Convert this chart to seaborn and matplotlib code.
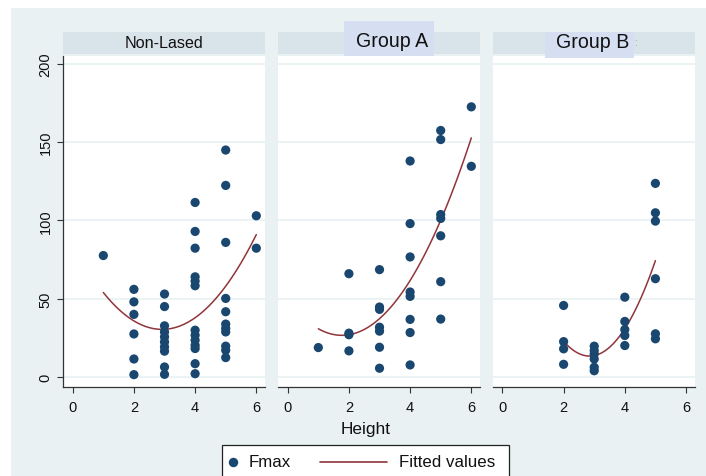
import matplotlib
matplotlib.use("Agg")
import matplotlib.pyplot as plt
from matplotlib.patches import Rectangle
from matplotlib.lines import Line2D
import seaborn as sns
import pandas as pd

# ---------------- data ----------------
panels = ["Non-Lased", "Group A", "Group B"]

nonlased_height = [1,
                   2, 2, 2, 2, 2, 2,
                   3, 3, 3, 3, 3, 3, 3, 3, 3, 3,
                   4, 4, 4, 4, 4, 4, 4, 4, 4, 4, 4, 4, 4,
                   5, 5, 5, 5, 5, 5, 5, 5, 5, 5, 5,
                   6, 6]
nonlased_fmax = [77.6,
                 56, 48, 40, 27.5, 11.5, 1.5,
                 53, 45, 32.7, 28.8, 25.6, 22.4, 19.2, 16.5, 6.4, 1.7,
                 111.5, 93, 82.3, 64, 61.3, 58.3, 29.9, 26.7, 23.5, 20.3, 18.2, 8.5, 2.1,
                 145, 122.4, 86, 50.2, 41.7, 33.8, 31, 28.8, 19.7, 17.1, 12.4,
                 103, 82.3]

groupA_height = [1,
                 2, 2, 2, 2,
                 3, 3, 3, 3, 3, 3, 3,
                 4, 4, 4, 4, 4, 4, 4, 4,
                 5, 5, 5, 5, 5, 5, 5,
                 6, 6]
groupA_fmax = [18.8,
               66, 28, 27, 16.7,
               68.6, 44.7, 43.2, 31.8, 29.3, 19, 5.6,
               138, 98, 76.7, 54.3, 51.5, 36.8, 28.4, 7.7,
               157.5, 151.7, 103.8, 101.3, 90.2, 60.9, 37,
               172.6, 134.6]

groupB_height = [2, 2, 2, 2,
                 3, 3, 3, 3, 3, 3,
                 4, 4, 4, 4, 4,
                 5, 5, 5, 5, 5, 5]
groupB_fmax = [45.7, 22.6, 18, 8.1,
               19.7, 16.9, 14.7, 11.5, 6.2, 4,
               51, 35.5, 30.3, 26.5, 20.1,
               123.7, 104.9, 99.6, 62.8, 27.6, 24.4]

x_ticks = [0, 2, 4, 6]
y_ticks = [0, 50, 100, 150, 200]
x_label = "Height"
legend_labels = ["Fmax", "Fitted values"]

df = pd.concat([
    pd.DataFrame({"Height": nonlased_height, "Fmax": nonlased_fmax, "panel": panels[0]}),
    pd.DataFrame({"Height": groupA_height, "Fmax": groupA_fmax, "panel": panels[1]}),
    pd.DataFrame({"Height": groupB_height, "Fmax": groupB_fmax, "panel": panels[2]}),
], ignore_index=True)

# ---------------- style ----------------
sns.set_style("white")
plt.rcParams["font.family"] = ["Liberation Sans", "DejaVu Sans"]

W, H = 706, 477
BG = "#e9f1f3"
STRIP = "#d9e4ea"
LAV = "#d6def2"
NAVY = "#1a476f"
MAROON = "#90353b"
AXC = "#333333"

fig = plt.figure(figsize=(W / 100, H / 100), dpi=100)
fig.patch.set_facecolor("white")
fig.add_artist(Rectangle((11 / W, 0), 1, (H - 9) / H, transform=fig.transFigure,
                         facecolor=BG, edgecolor="none", zorder=-5))

def fx(px):
    return px / W

def fy(py):
    return 1 - py / H

lefts = [63.3, 278.3, 493.0]
pw = 202.0
top_px, bot_px = 56.5, 388.0

for i, name in enumerate(panels):
    ax = fig.add_axes([fx(lefts[i]), fy(bot_px), pw / W, (bot_px - top_px) / H])
    ax.set_facecolor("white")
    sub = df[df["panel"] == name]
    sns.scatterplot(data=sub, x="Height", y="Fmax", ax=ax, color=NAVY, s=44,
                    edgecolor="none", linewidth=0, zorder=3)
    sns.regplot(data=sub, x="Height", y="Fmax", ax=ax, order=2, scatter=False,
                ci=None, color=MAROON, line_kws={"lw": 1.1, "zorder": 2})
    ax.set_xlim(-0.308, 6.294)
    ax.set_ylim(-6.39, 205.4)
    ax.set_xticks(x_ticks)
    ax.set_yticks(y_ticks)
    ax.yaxis.grid(True, color=BG, lw=1.2, zorder=0)
    ax.xaxis.grid(False)
    ax.set_axisbelow(True)
    ax.set_xlabel("")
    ax.set_ylabel("")
    for s in ["top", "right"]:
        ax.spines[s].set_visible(False)
    ax.spines["bottom"].set_color(AXC)
    ax.spines["bottom"].set_linewidth(0.9)
    ax.tick_params(axis="x", direction="out", length=4.3, width=0.8, color=AXC,
                   labelsize=10.5, pad=5, labelcolor="#111111", bottom=True)
    if i == 0:
        ax.spines["left"].set_color(AXC)
        ax.spines["left"].set_linewidth(0.9)
        ax.tick_params(axis="y", direction="out", length=4.3, width=0.8, color=AXC,
                       labelsize=10.5, pad=3.5, labelcolor="#111111", left=True,
                       labelrotation=90)
        for lab in ax.get_yticklabels():
            lab.set_va("center")
    else:
        ax.spines["left"].set_visible(False)
        ax.tick_params(axis="y", length=0, labelleft=False)

    # strip
    sax = fig.add_axes([fx(lefts[i]), fy(55), pw / W, 22 / H])
    sax.set_facecolor(STRIP)
    sax.set_xticks([])
    sax.set_yticks([])
    for s in sax.spines.values():
        s.set_visible(False)

# strip titles
fig.text(fx(164), fy(44), panels[0], ha="center", va="center", fontsize=11.6, color="#111111")

fig.add_artist(Rectangle((fx(344.3), fy(57.3)), 90 / W, 35.6 / H, transform=fig.transFigure,
                         facecolor=LAV, edgecolor="none", zorder=5))
fig.text(fx(392.5), fy(41.5), panels[1], ha="center", va="center", fontsize=14.1,
         color="#111111", zorder=6)

fig.add_artist(Rectangle((fx(545), fy(59)), 89 / W, 25.7 / H, transform=fig.transFigure,
                         facecolor=LAV, edgecolor="none", zorder=5))
fig.text(fx(592.8), fy(43), panels[2], ha="center", va="center", fontsize=14.1,
         color="#111111", zorder=6)
fig.text(fx(635.5), fy(43.5), ":", ha="center", va="center", fontsize=7,
         color="#999999", zorder=6)

# x label
fig.text(fx(365.5), fy(430), x_label, ha="center", va="center", fontsize=12.4, color="#111111")

# legend
fig.add_artist(Rectangle((fx(222), fy(490)), 287 / W, 44 / H, transform=fig.transFigure,
                         facecolor="white", edgecolor="#222222", lw=0.9, zorder=5))
fig.add_artist(Line2D([fx(233)], [fy(463)], marker="o", markersize=6.8, color=NAVY,
                      markeredgewidth=0, linestyle="none", transform=fig.transFigure, zorder=6))
fig.text(fx(249), fy(463), legend_labels[0], ha="left", va="center", fontsize=12.2,
         color="#111111", zorder=6)
fig.add_artist(Line2D([fx(320), fx(387)], [fy(463), fy(463)], color=MAROON, lw=1.2,
                      transform=fig.transFigure, zorder=6))
fig.text(fx(399), fy(463), legend_labels[1], ha="left", va="center", fontsize=12.2,
         color="#111111", zorder=6)

fig.savefig("out.png", dpi=100, facecolor=fig.get_facecolor())
